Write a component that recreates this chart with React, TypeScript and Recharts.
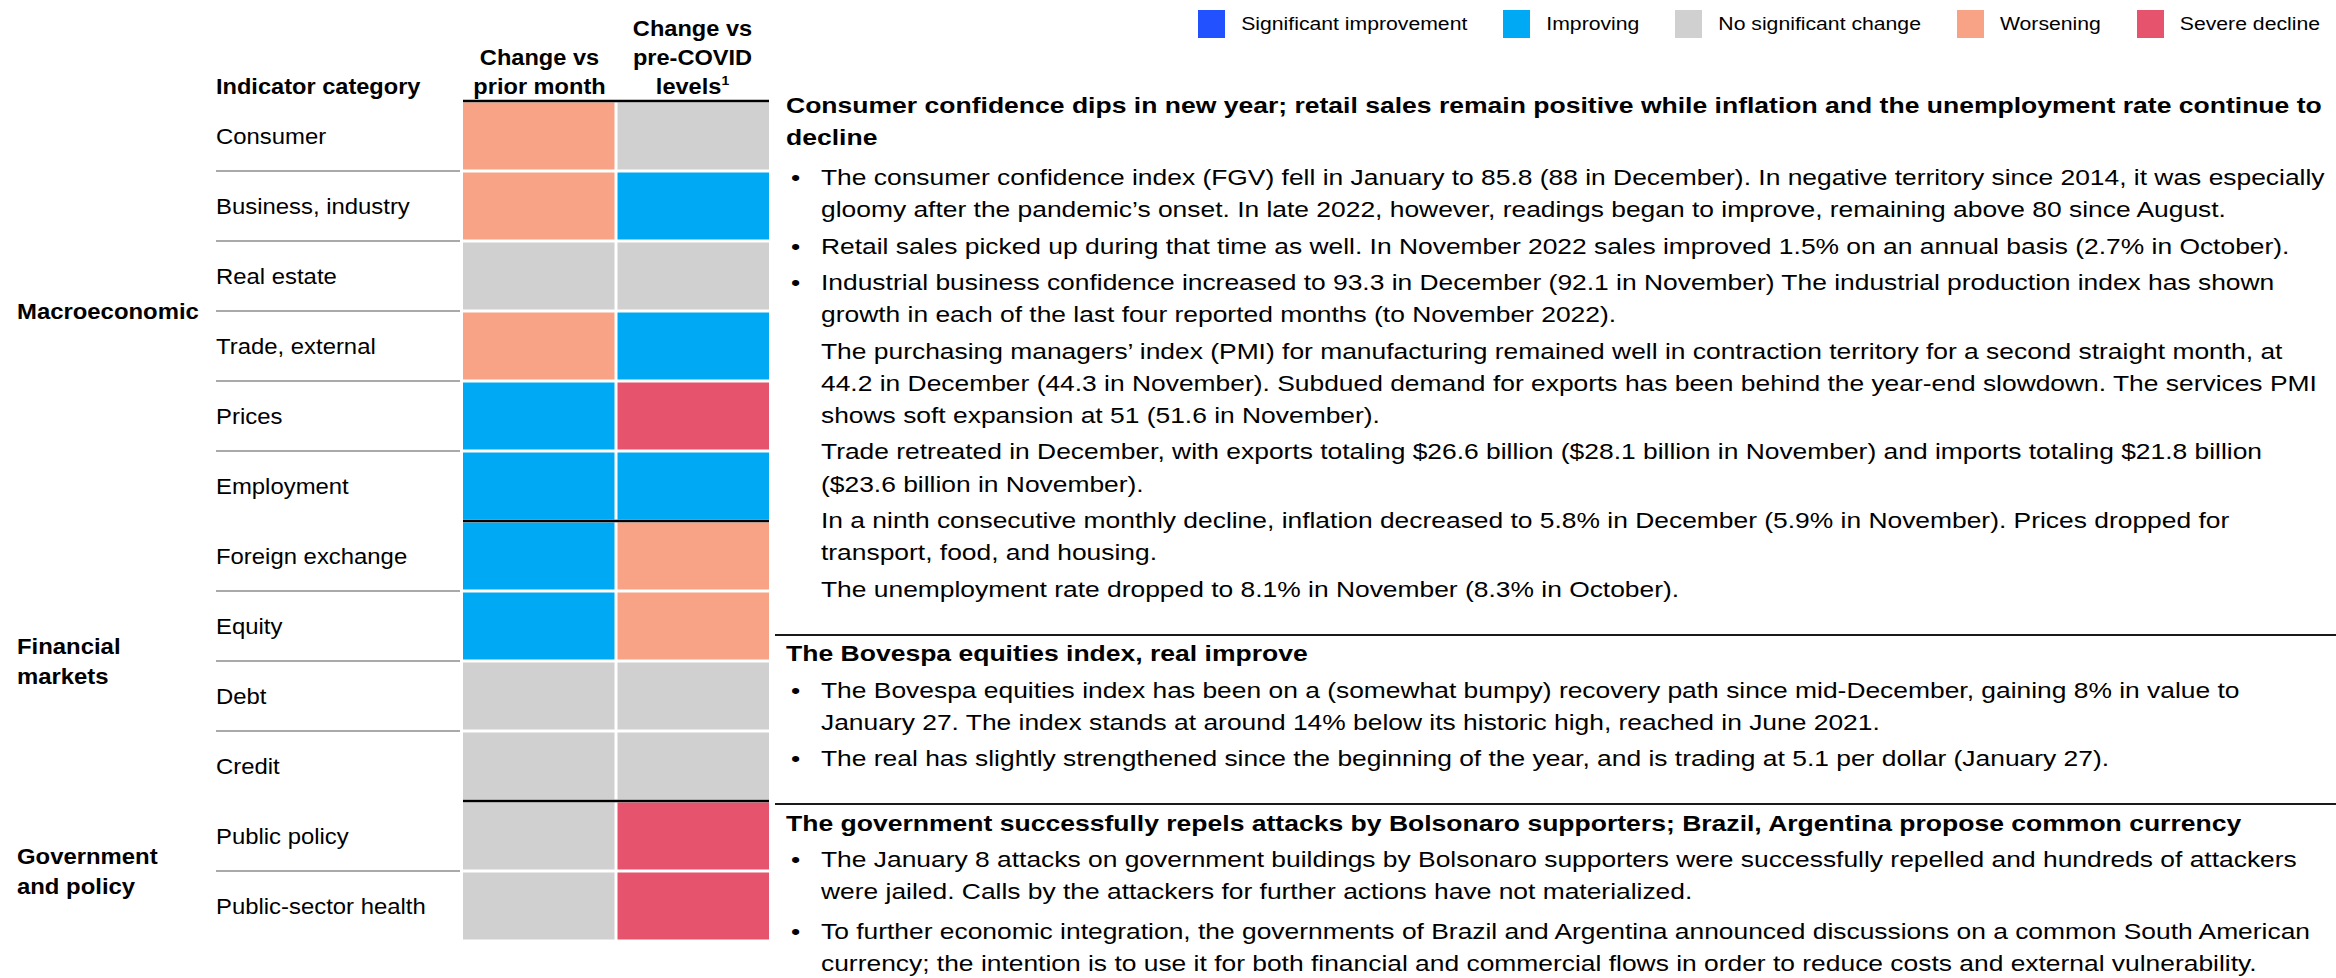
import React from "react";
import { BarChart, Bar, XAxis, YAxis, ReferenceLine } from "recharts";

// ---------------- data ----------------
const categories = [
  "Consumer",
  "Business, industry",
  "Real estate",
  "Trade, external",
  "Prices",
  "Employment",
  "Foreign exchange",
  "Equity",
  "Debt",
  "Credit",
  "Public policy",
  "Public-sector health",
];
const groupNames = [["Macroeconomic"], ["Financial", "markets"], ["Government", "and policy"]];
const groupSizes = [6, 4, 2];

const statusKeys = [
  "Significant improvement",
  "Improving",
  "No significant change",
  "Worsening",
  "Severe decline",
];
const statusColors = ["#2251FF", "#00A9F4", "#D0D0D0", "#F8A385", "#E5546C"];

const changeVsPriorMonth = [
  "Worsening",
  "Worsening",
  "No significant change",
  "Worsening",
  "Improving",
  "Improving",
  "Improving",
  "Improving",
  "No significant change",
  "No significant change",
  "No significant change",
  "No significant change",
];
const changeVsPreCovid = [
  "No significant change",
  "Improving",
  "No significant change",
  "Improving",
  "Severe decline",
  "Improving",
  "Worsening",
  "Worsening",
  "No significant change",
  "No significant change",
  "Severe decline",
  "Severe decline",
];

const columnHeaders = [
  ["Change vs", "prior month"],
  ["Change vs", "pre-COVID", "levels"],
];
const columnFootnote = ["", "1"];
const rowHeader = "Indicator category";

const sectionHeadings = [
  [
    "Consumer confidence dips in new year; retail sales remain positive while inflation and the unemployment rate continue to",
    "decline",
  ],
  ["The Bovespa equities index, real improve"],
  ["The government successfully repels attacks by Bolsonaro supporters; Brazil, Argentina propose common currency"],
];
const sectionParagraphs = [
  [
    {
      bullet: true,
      lines: [
        "The consumer confidence index (FGV) fell in January to 85.8 (88 in December). In negative territory since 2014, it was especially",
        "gloomy after the pandemic\u2019s onset. In late 2022, however, readings began to improve, remaining above 80 since August.",
      ],
    },
    {
      bullet: true,
      lines: [
        "Retail sales picked up during that time as well. In November 2022 sales improved 1.5% on an annual basis (2.7% in October).",
      ],
    },
    {
      bullet: true,
      lines: [
        "Industrial business confidence increased to 93.3 in December (92.1 in November) The industrial production index has shown",
        "growth in each of the last four reported months (to November 2022).",
      ],
    },
    {
      bullet: false,
      lines: [
        "The purchasing managers\u2019 index (PMI) for manufacturing remained well in contraction territory for a second straight month, at",
        "44.2 in December (44.3 in November). Subdued demand for exports has been behind the year-end slowdown. The services PMI",
        "shows soft expansion at 51 (51.6 in November).",
      ],
    },
    {
      bullet: false,
      lines: [
        "Trade retreated in December, with exports totaling $26.6 billion ($28.1 billion in November) and imports totaling $21.8 billion",
        "($23.6 billion in November).",
      ],
    },
    {
      bullet: false,
      lines: [
        "In a ninth consecutive monthly decline, inflation decreased to 5.8% in December (5.9% in November). Prices dropped for",
        "transport, food, and housing.",
      ],
    },
    {
      bullet: false,
      lines: ["The unemployment rate dropped to 8.1% in November (8.3% in October)."],
    },
  ],
  [
    {
      bullet: true,
      lines: [
        "The Bovespa equities index has been on a (somewhat bumpy) recovery path since mid-December, gaining 8% in value to",
        "January 27. The index stands at around 14% below its historic high, reached in June 2021.",
      ],
    },
    {
      bullet: true,
      lines: [
        "The real has slightly strengthened since the beginning of the year, and is trading at 5.1 per dollar (January 27).",
      ],
    },
  ],
  [
    {
      bullet: true,
      lines: [
        "The January 8 attacks on government buildings by Bolsonaro supporters were successfully repelled and hundreds of attackers",
        "were jailed. Calls by the attackers for further actions have not materialized.",
      ],
    },
    {
      bullet: true,
      lines: [
        "To further economic integration, the governments of Brazil and Argentina announced discussions on a common South American",
        "currency; the intention is to use it for both financial and commercial flows in order to reduce costs and external vulnerability.",
      ],
    },
  ],
];

// ---------------- layout / style ----------------
const W = 2336;
const H = 978;
const FONT = "'Liberation Sans', Arial, Helvetica, sans-serif";
const PLOT_TOP = 101;
const ROW_H = 70;
const PLOT_LEFT = 463;
const PLOT_RIGHT = 769;
const PLOT_BOTTOM = PLOT_TOP + ROW_H * categories.length;
const LABEL_X = 216;
const SEP_X2 = 460;
const GROUP_X = 17;
const GROUP_PITCH = 30;
const LEFT_FS = 23.9;
const LEFT_SY = 0.9;
const HEADER_FS = 23.6;
const HEADER_LAST_Y = 87;
const HEADER_PITCH = 29;

const BODY_FS = 26.4;
const BODY_SY = 0.845;
const HEAD_SX = 1.005;
const LINE_PITCH = 32.3;
const HEAD_X = 786;
const BULLET_X = 791;
const TEXT_X = 821;
const headingTops = [105, 653, 823];
const paragraphTops = [
  [177, 245.6, 281.9, 350.5, 451.4, 520, 588.6],
  [690, 758],
  [859, 931],
];
const sectionRules = [635, 804];

const colorOf = (s: string) => statusColors[statusKeys.indexOf(s)];

const table = categories.map((category, i) => ({
  category,
  prior: 1,
  preCovid: 1,
  priorStatus: changeVsPriorMonth[i],
  preCovidStatus: changeVsPreCovid[i],
}));

const groupStarts: number[] = [];
{
  let acc = 0;
  groupSizes.forEach((s) => {
    groupStarts.push(acc);
    acc += s;
  });
}
const groupIndexOf = (i: number) => {
  for (let g = groupStarts.length - 1; g >= 0; g--) if (i >= groupStarts[g]) return g;
  return 0;
};

function RowTick(props: any) {
  const { y, payload } = props;
  const i = categories.indexOf(payload.value);
  const g = groupIndexOf(i);
  const isFirst = i === groupStarts[g];
  const isLast = i === groupStarts[g] + groupSizes[g] - 1;
  const groupCenter = y + ((groupSizes[g] - 1) * ROW_H) / 2;
  const nLines = groupNames[g].length;
  return (
    <g>
      {i === 0 && (
        <text
          transform={`translate(${LABEL_X},${HEADER_LAST_Y}) scale(1,${LEFT_SY})`}
          dominantBaseline="central"
          fontFamily={FONT}
          fontSize={HEADER_FS}
          fontWeight="bold"
          fill="#000"
        >
          {rowHeader}
        </text>
      )}
      <text
        transform={`translate(${LABEL_X},${y}) scale(1,${LEFT_SY})`}
        dominantBaseline="central"
        fontFamily={FONT}
        fontSize={LEFT_FS}
        fill="#000"
      >
        {payload.value}
      </text>
      {!isLast && (
        <line
          x1={LABEL_X}
          x2={SEP_X2}
          y1={y + ROW_H / 2}
          y2={y + ROW_H / 2}
          stroke="#8c8c8c"
          strokeWidth={1.5}
        />
      )}
      {isFirst &&
        groupNames[g].map((ln, k) => (
          <text
            key={k}
            transform={`translate(${GROUP_X},${groupCenter + (k - (nLines - 1) / 2) * GROUP_PITCH}) scale(1,${LEFT_SY})`}
            dominantBaseline="central"
            fontFamily={FONT}
            fontSize={LEFT_FS}
            fontWeight="bold"
            fill="#000"
          >
            {ln}
          </text>
        ))}
    </g>
  );
}

function HeaderTick(props: any) {
  const { x, payload } = props;
  const c = payload.value < 1 ? 0 : 1;
  const lines = columnHeaders[c];
  const n = lines.length;
  return (
    <g>
      {lines.map((ln, k) => (
        <text
          key={k}
          transform={`translate(${x},${HEADER_LAST_Y - (n - 1 - k) * HEADER_PITCH}) scale(1,${LEFT_SY})`}
          textAnchor="middle"
          dominantBaseline="central"
          fontFamily={FONT}
          fontSize={HEADER_FS}
          fontWeight="bold"
          fill="#000"
        >
          {ln}
          {k === n - 1 && columnFootnote[c] ? (
            <tspan fontSize={14} dy={-8}>
              {columnFootnote[c]}
            </tspan>
          ) : null}
        </text>
      ))}
    </g>
  );
}

const PriorShape = (p: any) => (
  <rect
    x={p.x}
    y={p.y + 1.5}
    width={Math.max(0, p.width - 1.5)}
    height={Math.max(0, p.height - 3)}
    fill={colorOf(p.payload.priorStatus)}
  />
);
const PreCovidShape = (p: any) => (
  <rect
    x={p.x + 1.5}
    y={p.y + 1.5}
    width={Math.max(0, p.width - 1.5)}
    height={Math.max(0, p.height - 3)}
    fill={colorOf(p.payload.preCovidStatus)}
  />
);

function TextLine({ x, cy, text, bold }: { x: number; cy: number; text: string; bold?: boolean }) {
  const lh = 32;
  return (
    <div
      style={{
        position: "absolute",
        left: x,
        top: cy - lh / 2,
        height: lh,
        lineHeight: `${lh}px`,
        whiteSpace: "nowrap",
        fontFamily: FONT,
        fontSize: BODY_FS,
        fontWeight: bold ? "bold" : "normal",
        color: "#000",
      }}
    >
      <span
        style={{
          display: "inline-block",
          transformOrigin: "0 50%",
          transform: `scale(${bold ? HEAD_SX : 1}, ${BODY_SY})`,
        }}
      >
        {text}
      </span>
    </div>
  );
}

function TextPanel() {
  const items: React.ReactNode[] = [];
  sectionHeadings.forEach((hLines, s) => {
    hLines.forEach((ln, k) => {
      items.push(
        <TextLine key={`h${s}-${k}`} x={HEAD_X} cy={headingTops[s] + k * 32} text={ln} bold />
      );
    });
    sectionParagraphs[s].forEach((para, p) => {
      const top = paragraphTops[s][p];
      if (para.bullet)
        items.push(<TextLine key={`b${s}-${p}`} x={BULLET_X} cy={top} text={"\u2022"} />);
      para.lines.forEach((ln, k) => {
        items.push(
          <TextLine key={`t${s}-${p}-${k}`} x={TEXT_X} cy={top + k * LINE_PITCH} text={ln} />
        );
      });
    });
  });
  sectionRules.forEach((y, k) => {
    items.push(
      <div
        key={`r${k}`}
        style={{ position: "absolute", left: 775, top: y - 1, width: W - 775, height: 2, background: "#1a1a1a" }}
      />
    );
  });
  return <>{items}</>;
}

function LegendBar() {
  return (
    <div
      style={{
        position: "absolute",
        right: 16,
        top: 10,
        display: "flex",
        alignItems: "center",
        fontFamily: FONT,
        fontSize: 21.2,
        color: "#000",
      }}
    >
      {statusKeys.map((k, i) => (
        <div key={k} style={{ display: "flex", alignItems: "center", marginLeft: i === 0 ? 0 : 36 }}>
          <div style={{ width: 27, height: 28, background: statusColors[i], marginRight: 16 }} />
          <span style={{ display: "inline-block", transform: `scaleY(${BODY_SY})`, whiteSpace: "nowrap" }}>{k}</span>
        </div>
      ))}
    </div>
  );
}

export default function App() {
  return (
    <div
      style={{
        position: "absolute",
        left: 0,
        top: 0,
        width: W,
        height: H,
        background: "#fff",
        overflow: "hidden",
      }}
    >
      <BarChart
        width={W}
        height={H}
        data={table}
        layout="vertical"
        barCategoryGap={0}
        barGap={0}
        margin={{ top: PLOT_TOP - 1, right: W - PLOT_RIGHT, bottom: H - PLOT_BOTTOM, left: PLOT_LEFT - 1 }}
      >
        <XAxis
          type="number"
          orientation="top"
          domain={[0, 2]}
          ticks={[0.5, 1.5]}
          height={1}
          axisLine={false}
          tickLine={false}
          tick={HeaderTick}
          interval={0}
        />
        <YAxis
          type="category"
          dataKey="category"
          width={1}
          axisLine={false}
          tickLine={false}
          interval={0}
          tick={RowTick}
        />
        <Bar dataKey="prior" stackId="cells" isAnimationActive={false} shape={PriorShape} />
        <Bar dataKey="preCovid" stackId="cells" isAnimationActive={false} shape={PreCovidShape} />
        <ReferenceLine y={categories[0]} position="start" stroke="#000" strokeWidth={2.5} />
        {groupStarts.slice(1).map((gs) => (
          <ReferenceLine key={gs} y={categories[gs]} position="start" stroke="#000" strokeWidth={2.5} />
        ))}
      </BarChart>
      <LegendBar />
      <TextPanel />
    </div>
  );
}
